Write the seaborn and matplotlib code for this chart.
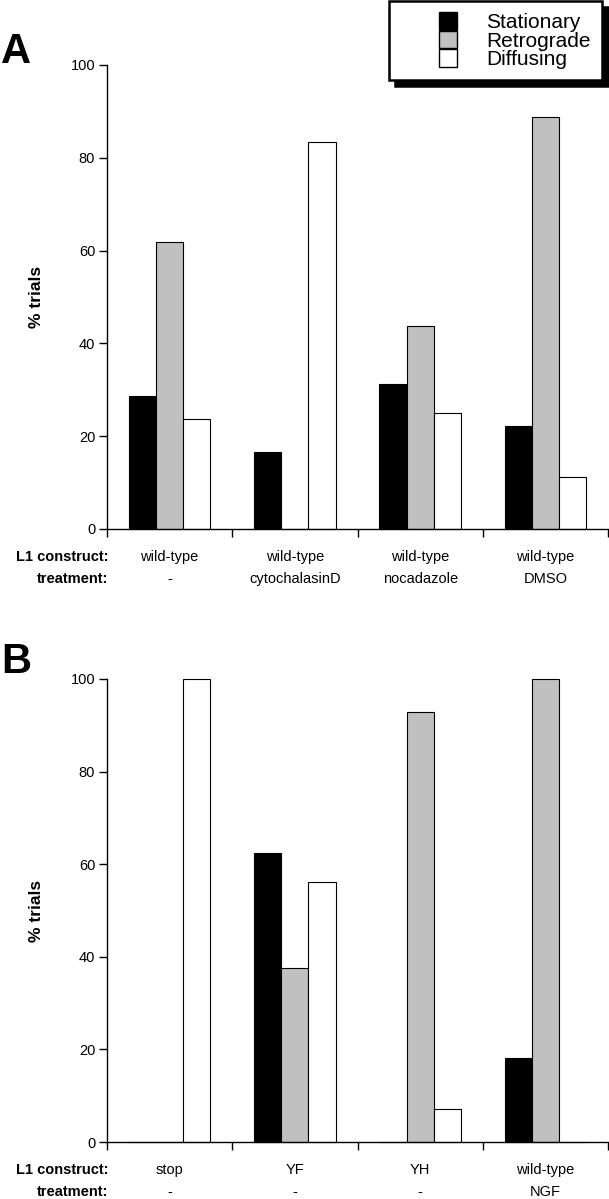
import numpy as np
import pandas as pd
import seaborn as sns
import matplotlib.pyplot as plt
from matplotlib.patches import Patch, Rectangle
from matplotlib.legend_handler import HandlerPatch

# categories / series
types = ['Stationary', 'Retrograde', 'Diffusing']
colors = ['black', '#c0c0c0', 'white']

# panel A
constructs_a = ['wild-type', 'wild-type', 'wild-type', 'wild-type']
treatments_a = ['-', 'cytochalasinD', 'nocadazole', 'DMSO']
stationary_a = [28.6, 16.7, 31.25, 22.2]
retrograde_a = [61.9, 0, 43.75, 88.9]
diffusing_a = [23.8, 83.3, 25.0, 11.1]

# panel B
constructs_b = ['stop', 'YF', 'YH', 'wild-type']
treatments_b = ['-', '-', '-', 'NGF']
stationary_b = [0, 62.5, 0, 18.2]
retrograde_b = [0, 37.5, 92.9, 100]
diffusing_b = [100, 56.25, 7.1, 0]

y_ticks = [0, 20, 40, 60, 80, 100]

sns.set_style('ticks')
plt.rcParams['font.family'] = ['Liberation Sans', 'DejaVu Sans']
plt.rcParams['axes.edgecolor'] = 'black'
plt.rcParams['xtick.color'] = 'black'
plt.rcParams['ytick.color'] = 'black'
plt.rcParams['text.color'] = 'black'
plt.rcParams['axes.labelcolor'] = 'black'


def make_df(constructs, treatments, stat, retro, diff):
    keys = [c + '|' + t for c, t in zip(constructs, treatments)]
    df = pd.DataFrame({'key': keys, 'Stationary': stat,
                       'Retrograde': retro, 'Diffusing': diff})
    return keys, df.melt(id_vars='key', var_name='type', value_name='pct')


def draw_panel(ax, constructs, treatments, stat, retro, diff):
    keys, df = make_df(constructs, treatments, stat, retro, diff)
    sns.barplot(data=df, x='key', y='pct', hue='type', order=keys,
                hue_order=types, palette=colors, saturation=1, width=0.65,
                edgecolor='black', linewidth=0.8, legend=False, ax=ax)
    for p in ax.patches:
        p.set_clip_on(False)
    ax.set_xlim(-0.5, 3.5)
    ax.set_ylim(0, 100)
    ax.set_yticks(y_ticks)
    ax.set_xticks(np.arange(-0.5, 4, 1))
    ax.set_xticklabels([])
    sns.despine(ax=ax)
    for s in ['left', 'bottom']:
        ax.spines[s].set_linewidth(1.0)
    ax.tick_params(direction='out', length=5.5, width=1, labelsize=10.5, pad=3)
    ax.set_xlabel('')
    ax.set_ylabel('% trials', fontsize=12.5, weight='bold')
    ax.yaxis.set_label_coords(-0.126, 0.5)

    for i, (c, t) in enumerate(zip(constructs, treatments)):
        ax.annotate(c, xy=(i, 0), xycoords=('data', 'axes fraction'),
                    xytext=(0, -20.3), textcoords='offset points',
                    ha='center', va='center', fontsize=10.5)
        ax.annotate(t, xy=(i, 0), xycoords=('data', 'axes fraction'),
                    xytext=(0, -36.3), textcoords='offset points',
                    ha='center', va='center', fontsize=10.5)
    ax.annotate('L1 construct:', xy=(0, 0), xycoords='axes fraction',
                xytext=(1, -20.3), textcoords='offset points',
                ha='right', va='center', fontsize=10.5, weight='bold')
    ax.annotate('treatment:', xy=(0, 0), xycoords='axes fraction',
                xytext=(1, -36.3), textcoords='offset points',
                ha='right', va='center', fontsize=10.5, weight='bold')


fig = plt.figure(figsize=(6.09, 11.99), dpi=100)
ax_a = fig.add_axes([107 / 609, 1 - 529 / 1199, 501 / 609, 464 / 1199])
ax_b = fig.add_axes([107 / 609, 1 - 1142 / 1199, 501 / 609, 463 / 1199])

draw_panel(ax_a, constructs_a, treatments_a, stationary_a, retrograde_a, diffusing_a)
draw_panel(ax_b, constructs_b, treatments_b, stationary_b, retrograde_b, diffusing_b)

fig.text(1 / 609, 1 - 63 / 1199, 'A', fontsize=30, weight='bold', va='baseline')
fig.text(1 / 609, 1 - 673 / 1199, 'B', fontsize=30, weight='bold', va='baseline')


def right_square(legend, orig_handle, xdescent, ydescent, width, height, fontsize):
    return Rectangle((width - height - xdescent, -ydescent), height, height)


handles = [Patch(facecolor=c, edgecolor='black', linewidth=1, label=t)
           for c, t in zip(colors, types)]
leg = fig.legend(handles=handles, loc='upper right',
                 bbox_to_anchor=(602 / 609, 1 - 1 / 1199), borderaxespad=0,
                 fontsize=15, frameon=True, fancybox=False, edgecolor='black',
                 framealpha=1,
                 shadow={'ox': 4, 'oy': -4, 'color': 'black', 'alpha': 1},
                 handlelength=2.71, handleheight=0.92, handletextpad=1.4,
                 labelspacing=-0.08, borderpad=0.55,
                 handler_map={Patch: HandlerPatch(patch_func=right_square)})
leg.get_frame().set_linewidth(1.8)

fig.savefig('out.png', dpi=100)
